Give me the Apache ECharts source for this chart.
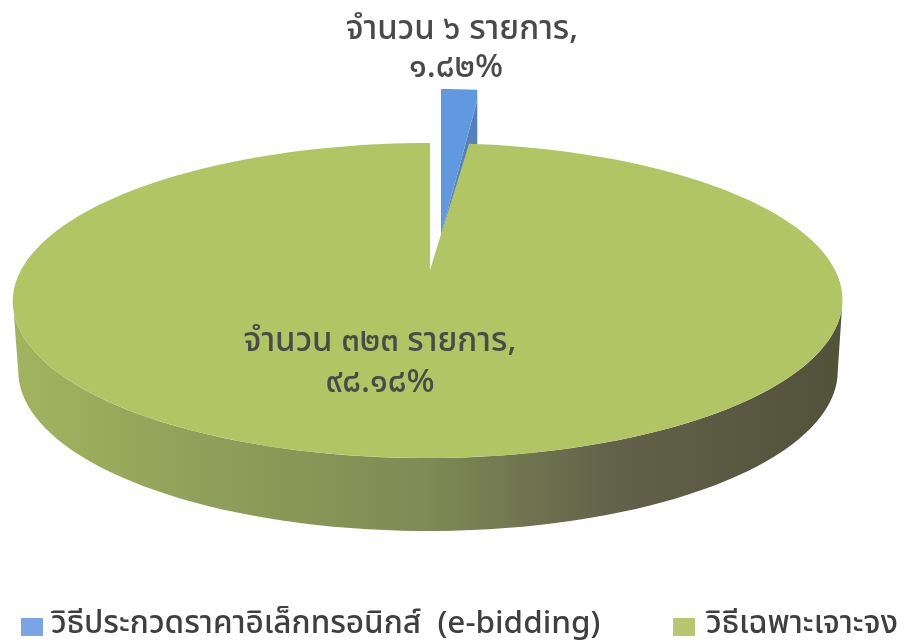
<!DOCTYPE html>
<html><head><meta charset="utf-8">
<style>html,body{margin:0;padding:0;background:#fff}#c{width:912px;height:641px}</style>
<script src="https://cdn.jsdelivr.net/npm/echarts@6/dist/echarts.min.js"></script>
</head><body><div id="c"></div>
<script>
const categories = ['วิธีประกวดราคาอิเล็กทรอนิกส์  (e-bidding)', 'วิธีเฉพาะเจาะจง'];
const itemCounts = [6, 323];
const labelLines = [['จำนวน ๖ รายการ,', '๑.๘๒%'], ['จำนวน ๓๒๓ รายการ,', '๙๘.๑๘%']];
const total = itemCounts[0] + itemCounts[1];

// pie view: a tilted disc seen in perspective
const K = 0.1937, APEX_X = 430, TOP_APEX_Y = 270, SX = 407, SY = 151.6;
const BOTTOM = {ax: 428, ay: 340, sx: 402, sy: 154, skew: 0};
const TOP = {ax: 428, ay: TOP_APEX_Y, sx: SX, sy: SY, skew: 2};
function project(view, deg) {
  const a = deg * Math.PI / 180, u = Math.sin(a), v = Math.cos(a), w = 1 + K * v;
  return [view.ax + view.skew * v + view.sx * u / w, view.ay - view.sy * v / w];
}
function arc(view, from, to) {
  const pts = [], n = Math.max(2, Math.ceil(Math.abs(to - from) / 2));
  for (let i = 0; i <= n; i++) pts.push(project(view, from + (to - from) * i / n));
  return pts;
}
const EDGE = Math.asin(K) * 180 / Math.PI;
const font = '"Noto Sans Thai","Noto Sans","DejaVu Sans",sans-serif';
function textEl(str, x, y) {
  return {type: 'text', z2: 10, style: {text: str, x, y, align: 'center', verticalAlign: 'middle',
    font: '500 33px ' + font, fill: '#4a4a4a'}};
}

function renderBlue(params, api) {
  const sweep = api.value(0) / total * 360;
  const view = {ax: 441, ay: 235, sx: SX * 0.93, sy: SY * 1.15, skew: 0};
  const apex = [view.ax, view.ay], rim = arc(view, 0, sweep);
  const end = rim[rim.length - 1], corner = [end[0], end[1] + 10], d = 55;
  return {type: 'group', children: [
    {type: 'polygon', shape: {points: [apex, corner, [corner[0], corner[1] + d], [apex[0], apex[1] + d]]}, style: {fill: '#5680b8'}},
    {type: 'polygon', shape: {points: [apex].concat(rim, [corner])}, style: {fill: '#6199e0'}},
    textEl(labelLines[0][0], 462, 32),
    textEl(labelLines[0][1], 456, 70)
  ]};
}
function renderGreen(params, api) {
  const start = itemCounts[0] / total * 360;
  const sweep = api.value(0) / total * 360;
  const sideTop = arc(TOP, 90 + EDGE, 270 - EDGE);
  const sideBot = arc(BOTTOM, 270 - EDGE, 90 + EDGE);
  return {type: 'group', children: [
    {type: 'polygon', shape: {points: sideTop.concat(sideBot)}, style: {fill: {
      type: 'linear', x: 0, y: 0, x2: 1, y2: 0, colorStops: [
        {offset: 0, color: '#a2b45f'}, {offset: 0.25, color: '#8f9e58'}, {offset: 0.5, color: '#7f8a55'},
        {offset: 0.72, color: '#62624a'}, {offset: 1, color: '#52513a'}]}}},
    {type: 'polygon', shape: {points: [[APEX_X, TOP_APEX_Y]].concat(arc(TOP, start, start + sweep))}, style: {fill: '#b1c564'}},
    textEl(labelLines[1][0], 380, 344),
    textEl(labelLines[1][1], 380, 385)
  ]};
}

const legendBase = {top: 606, icon: 'rect', itemWidth: 22, itemHeight: 18, itemGap: 0, selectedMode: false};
const legendText = {color: '#3f3f3f', fontSize: 31.5, fontFamily: font, fontWeight: 500};
const chart = echarts.init(document.getElementById('c'), null, {renderer: 'canvas'});
chart.setOption({
  animation: false,
  backgroundColor: '#ffffff',
  legend: [
    Object.assign({}, legendBase, {data: [categories[0]], left: 16, textStyle: Object.assign({padding: [0, 0, 0, 3]}, legendText)}),
    Object.assign({}, legendBase, {data: [categories[1]], left: 668, textStyle: Object.assign({padding: [0, 0, 0, 6]}, legendText)})
  ],
  series: [
    {type: 'custom', name: categories[0], coordinateSystem: 'none', silent: true, itemStyle: {color: '#7aa5e4'},
      renderItem: renderBlue, data: [[itemCounts[0]]], z: 1},
    {type: 'custom', name: categories[1], coordinateSystem: 'none', silent: true, itemStyle: {color: '#b8c670'},
      renderItem: renderGreen, data: [[itemCounts[1]]], z: 2}
  ]
});
</script></body></html>
